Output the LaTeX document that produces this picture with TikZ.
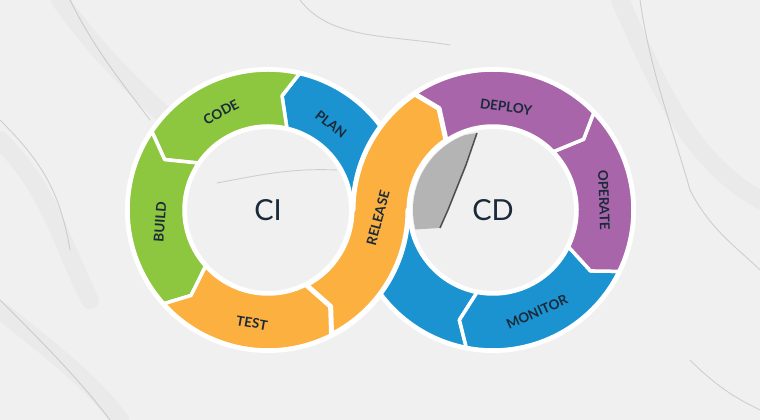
\documentclass[tikz,border=0pt]{standalone}
\usepackage{fontspec}
\setmainfont{Lato}

\definecolor{cigreen}{HTML}{8DC63F}
\definecolor{ciblue}{HTML}{1B93D1}
\definecolor{ciorange}{HTML}{FBB040}
\definecolor{cdpurple}{HTML}{A865A9}
\definecolor{labelnavy}{HTML}{1B2A3A}
\definecolor{marble}{HTML}{F0F0F0}

\begin{document}
\begin{tikzpicture}[x=1pt, y=1pt,
  every node/.style={font=\bfseries\fontsize{13.5}{13.5}\selectfont, text=labelnavy},
  seg/.style={draw=white, line width=3.5pt, line join=round},
  vein/.style={draw=gray!70, line width=0.9pt, opacity=0.45, line cap=round},
  cloud/.style={draw=gray, line width=18pt, opacity=0.05, line cap=round}]

  \useasboundingbox (0,0) rectangle (760,420);

  % Fondo de marmol
  \fill[marble] (0,0) rectangle (760,420);
  \draw[cloud] (60,420) .. controls (110,350) and (150,320) .. (190,280);
  \draw[cloud] (0,280) .. controls (50,230) and (60,180) .. (90,120);
  \draw[cloud] (620,420) .. controls (660,330) and (690,260) .. (760,220);
  \draw[cloud] (0,110) .. controls (50,70) and (90,40) .. (120,0);
  \draw[vein] (70,420) .. controls (95,370) and (120,340) .. (150,300);
  \draw[vein] (0,300) .. controls (40,260) and (60,230) .. (70,170);
  \draw[vein] (300,420) .. controls (330,380) and (390,385) .. (450,375);
  \draw[vein] (640,420) .. controls (650,350) and (670,300) .. (690,230);
  \draw[vein] (690,230) .. controls (710,190) and (740,170) .. (760,150);
  \draw[vein] (0,120) .. controls (40,80) and (80,40) .. (110,0);
  \draw[vein] (690,60) .. controls (720,30) and (740,20) .. (760,10);
  \draw[vein] (217,237) .. controls (260,245) and (290,252) .. (337,250);

  % Centros
  \path (268,210) coordinate (ci);
  \path (493,210) coordinate (cd);

  % Grieta oscura dentro de CD
  \begin{scope}
    \clip (cd) circle[radius=80];
    \fill[gray!70, opacity=0.8] (405,275) -- (477,287) -- (466,255) -- (458,235)
      -- (448,210) -- (440,192) -- (405,190) -- cycle;
    \draw[gray!20!black, line width=1.5pt, opacity=0.7]
      (477,287) -- (466,255) -- (458,235) -- (448,210) -- (440,192);
  \end{scope}

  % Borde blanco de los anillos
  \fill[white, even odd rule] (ci) circle[radius=143] (ci) circle[radius=81];
  \fill[white, even odd rule] (cd) circle[radius=143] (cd) circle[radius=81];

  % Anillo CI
  \begin{scope}[shift={(ci)}]
    \filldraw[seg, fill=ciblue] (6:115) -- (0:140) arc[start angle=0, end angle=77, radius=140]
      -- (83:115) -- (77:84) arc[start angle=77, end angle=0, radius=84] -- cycle;
    \filldraw[seg, fill=cigreen] (83:115) -- (77:140) arc[start angle=77, end angle=146, radius=140]
      -- (154:115) -- (146:84) arc[start angle=146, end angle=77, radius=84] -- cycle;
    \filldraw[seg, fill=cigreen] (154:115) -- (146:140) arc[start angle=146, end angle=222, radius=140]
      -- (228:115) -- (222:84) arc[start angle=222, end angle=146, radius=84] -- cycle;
    \filldraw[seg, fill=ciorange] (228:115) -- (222:140) arc[start angle=222, end angle=297, radius=140]
      -- (303:115) -- (297:84) arc[start angle=297, end angle=222, radius=84] -- cycle;
  \end{scope}

  % Anillo CD
  \begin{scope}[shift={(cd)}]
    \filldraw[seg, fill=ciblue] (-107:115) -- (-101:140) arc[start angle=-101, end angle=-180, radius=140]
      -- (-186:115) -- (-180:84) arc[start angle=-180, end angle=-101, radius=84] -- cycle;
    \filldraw[seg, fill=ciblue] (-32:115) -- (-26:140) arc[start angle=-26, end angle=-101, radius=140]
      -- (-107:115) -- (-101:84) arc[start angle=-101, end angle=-26, radius=84] -- cycle;
    \filldraw[seg, fill=cdpurple] (38:115) -- (44:140) arc[start angle=44, end angle=-26, radius=140]
      -- (-32:115) -- (-26:84) arc[start angle=-26, end angle=44, radius=84] -- cycle;
    \filldraw[seg, fill=cdpurple] (118:115) -- (124:140) arc[start angle=124, end angle=44, radius=140]
      -- (38:115) -- (44:84) arc[start angle=44, end angle=124, radius=84] -- cycle;
  \end{scope}

  % Release cruza por encima
  \filldraw[seg, line width=5pt, fill=ciorange]
    ([shift={(303:115)}]ci) -- ([shift={(297:140)}]ci) arc[start angle=297, end angle=360, radius=140]
    -- ([shift={(180:84)}]cd) arc[start angle=180, end angle=124, radius=84]
    -- ([shift={(118:115)}]cd) -- ([shift={(124:140)}]cd) arc[start angle=124, end angle=180, radius=140]
    -- ([shift={(0:84)}]ci) arc[start angle=360, end angle=297, radius=84] -- cycle;

  % Etiquetas
  \node[rotate=-38] (plan) at (331,296) {PLAN};
  \node[rotate=28] (code) at (221,308) {CODE};
  \node[rotate=86] (build) at (160,198) {BUILD};
  \node[rotate=-10] (test) at (252,97) {TEST};
  \node[rotate=75] (release) at (378,202) {RELEASE};
  \node[rotate=-8] (deploy) at (506,313) {DEPLOY};
  \node[rotate=-88] (operate) at (604,220) {OPERATE};
  \node[rotate=24] (monitor) at (537,108) {MONITOR};

  \node[font=\fontsize{29}{29}\selectfont] (cilabel) at (ci) {CI};
  \node[font=\fontsize{29}{29}\selectfont] (cdlabel) at (cd) {CD};
\end{tikzpicture}
\end{document}
